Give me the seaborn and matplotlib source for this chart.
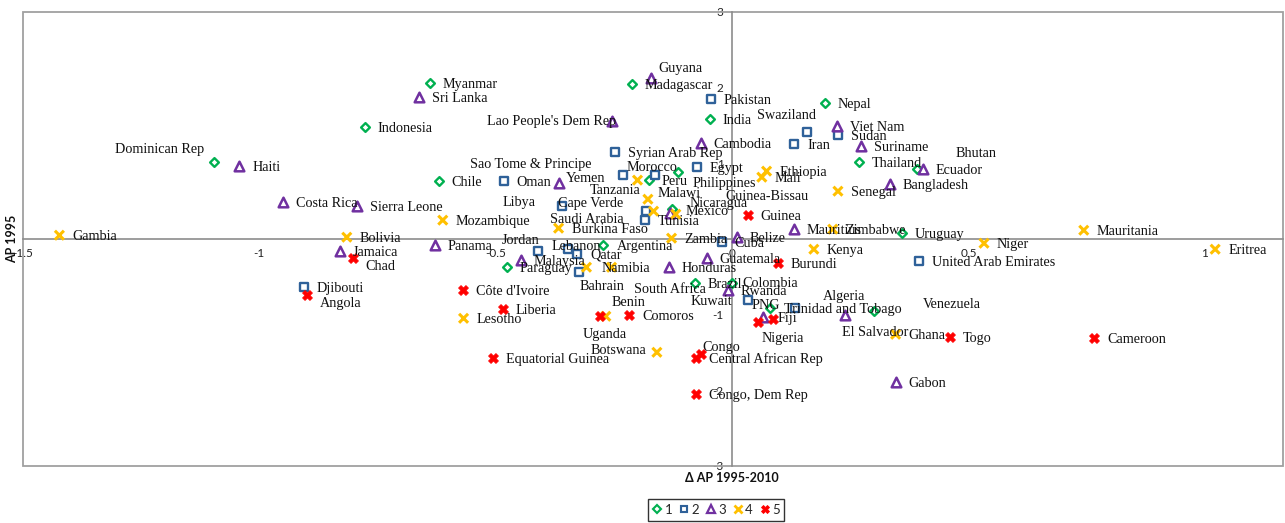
import numpy as np
import pandas as pd
import matplotlib
matplotlib.use("Agg")
import matplotlib.pyplot as plt
import matplotlib.transforms as mtransforms
from matplotlib.lines import Line2D
from matplotlib.patches import Rectangle
import seaborn as sns

# ---------------- data ----------------
c1_names = ["Dominican Rep", "Myanmar", "Indonesia", "Madagascar", "India", "Nepal", "Chile", "Peru",
            "Philippines", "Thailand", "Bhutan", "Nicaragua", "Argentina", "Uruguay", "Paraguay",
            "Brazil", "Colombia", "PNG", "Venezuela"]
c1_x = [-1.097, -0.640, -0.777, -0.212, -0.047, 0.196, -0.621, -0.176, -0.115, 0.268, 0.391, -0.126,
        -0.272, 0.359, -0.477, -0.079, -0.001, 0.080, 0.300]
c1_y = [1.016, 2.061, 1.479, 2.048, 1.585, 1.796, 0.765, 0.778, 0.884, 1.016, 0.923, 0.394,
        -0.082, 0.077, -0.373, -0.585, -0.585, -0.915, -0.955]

c2_names = ["Djibouti", "Oman", "Syrian Arab Rep", "Morocco", "Sao Tome & Principe", "Egypt", "Pakistan",
            "Swaziland", "Iran", "Sudan", "Cape Verde", "Libya", "Saudi Arabia", "Jordan", "Lebanon",
            "Qatar", "Bahrain", "Cuba", "Kuwait", "Trinidad and Tobago", "United Arab Emirates"]
c2_x = [-0.906, -0.483, -0.248, -0.231, -0.164, -0.075, -0.045, 0.158, 0.131, 0.224, -0.360, -0.183,
        -0.185, -0.411, -0.348, -0.327, -0.324, -0.022, 0.033, 0.133, 0.395]
c2_y = [-0.638, 0.765, 1.148, 0.844, 0.844, 0.950, 1.849, 1.413, 1.254, 1.373, 0.434, 0.368,
        0.249, -0.161, -0.135, -0.201, -0.439, -0.042, -0.810, -0.915, -0.294]

c3_names = ["Haiti", "Costa Rica", "Sri Lanka", "Sierra Leone", "Lao People's Dem Rep", "Guyana", "Yemen",
            "Cambodia", "Viet Nam", "Suriname", "Ecuador", "Bangladesh", "Tunisia", "Malaysia", "Panama",
            "Jamaica", "Belize", "Mauritius", "Guatemala", "Honduras", "Rwanda", "El Salvador",
            "Algeria", "Gabon"]
c3_x = [-1.042, -0.949, -0.663, -0.794, -0.255, -0.172, -0.367, -0.066, 0.222, 0.272, 0.404, 0.334,
        -0.132, -0.447, -0.629, -0.830, 0.010, 0.131, -0.054, -0.134, -0.009, 0.065, 0.239, 0.346]
c3_y = [0.963, 0.487, 1.876, 0.434, 1.558, 2.127, 0.738, 1.267, 1.492, 1.228, 0.923, 0.725,
        0.341, -0.280, -0.082, -0.161, 0.024, 0.130, -0.254, -0.373, -0.677, -1.034, -1.008, -1.894]

c4_names = ["Gambia", "Bolivia", "Mozambique", "Burkina Faso", "Tanzania", "Malawi", "Guinea-Bissau",
            "Mexico", "Zambia", "Ethiopia", "Mali", "Senegal", "Zimbabwe", "Kenya", "Niger", "Mauritania",
            "Eritrea", "Namibia", "South Africa", "Lesotho", "Uganda", "Botswana", "Ghana"]
c4_x = [-1.423, -0.815, -0.612, -0.367, -0.200, -0.178, -0.166, -0.119, -0.128, 0.073, 0.063, 0.224,
        0.213, 0.173, 0.533, 0.744, 1.022, -0.255, -0.308, -0.568, -0.267, -0.159, 0.346]
c4_y = [0.050, 0.024, 0.249, 0.143, 0.778, 0.526, 0.368, 0.328, 0.011, 0.897, 0.817, 0.632,
        0.130, -0.135, -0.056, 0.116, -0.135, -0.373, -0.373, -1.048, -1.021, -1.497, -1.259]

c5_names = ["Chad", "Angola", "Côte d'Ivoire", "Liberia", "Equatorial Guinea", "Benin", "Comoros",
            "Guinea", "Burundi", "Nigeria", "Fiji", "Togo", "Cameroon", "Congo", "Central African Rep",
            "Congo, Dem Rep"]
c5_x = [-0.801, -0.900, -0.570, -0.485, -0.506, -0.280, -0.217, 0.033, 0.097, 0.054, 0.086, 0.461,
        0.766, -0.066, -0.077, -0.077]
c5_y = [-0.254, -0.743, -0.677, -0.929, -1.577, -1.021, -1.008, 0.315, -0.320, -1.101, -1.061, -1.299,
        -1.312, -1.524, -1.577, -2.053]

cluster_labels = ["1", "2", "3", "4", "5"]
x_ticks = [-1.5, -1, -0.5, 0, 0.5, 1]
x_tick_labels = ["-1.5", "-1", "-0.5", "0", "0.5", "1"]
y_ticks = [-3, -2, -1, 0, 1, 2, 3]
y_tick_labels = ["-3", "-2", "-1", "0", "1", "2", "3"]
x_title = "Δ AP 1995-2010"
y_title = "AP 1995"

frames = []
for k, (n, xs, ys) in enumerate([(c1_names, c1_x, c1_y), (c2_names, c2_x, c2_y), (c3_names, c3_x, c3_y),
                                  (c4_names, c4_x, c4_y), (c5_names, c5_x, c5_y)], start=1):
    frames.append(pd.DataFrame({"name": n, "dap": xs, "ap": ys, "cluster": k}))
df = pd.concat(frames, ignore_index=True)

# label placement (pixel offsets from marker, y downward); default is to the right
DEFAULT_OFF = (13, 1)
LABEL_OFF = {
    "Dominican Rep": (-99, -13), "Guyana": (8, -10), "Lao People's Dem Rep": (-125, 0),
    "Philippines": (15, 11), "Bhutan": (39, -16), "Nicaragua": (17, -6), "PNG": (-18, -3),
    "Venezuela": (49, -7), "Morocco": (4, -8), "Sao Tome & Principe": (-185, -11),
    "Swaziland": (-50, -17), "Cape Verde": (-4, -3), "Libya": (-143, -9), "Saudi Arabia": (-95, -1),
    "Jordan": (-36, -11), "Lebanon": (-16, -3), "Bahrain": (1, 14), "Kuwait": (-57, 1),
    "Trinidad and Tobago": (-11, 1), "Yemen": (7, -5), "Tunisia": (-12, 8), "El Salvador": (79, 15),
    "Algeria": (-22, -19), "Tanzania": (-48, 10), "Malawi": (10, -6), "Guinea-Bissau": (72, -15),
    "Mexico": (10, -3), "Namibia": (-10, 1), "South Africa": (48, 22), "Uganda": (-23, 18),
    "Botswana": (-66, -2), "Benin": (12, -14), "Chad": (12, 8), "Angola": (13, 8), "Nigeria": (4, 16),
    "Congo": (2, -7), "Fiji": (5, -1), "Colombia": (11, 0),
}

STYLE = {
    1: dict(marker="D", color="#00B050", s=20, kind="hollow", lw=1.7),
    2: dict(marker="s", color="#2F6199", s=32, kind="hollow", lw=1.7),
    3: dict(marker="^", color="#7030A0", s=48, kind="hollow", lw=1.8),
    4: dict(marker="x", color="#FFC000", s=42, kind="line", lw=2.2),
    5: dict(marker="X", color="#FF0000", s=50, kind="filled", lw=0.6),
}

# ---------------- figure ----------------
sns.set_style("white")
plt.rcParams["font.family"] = ["Lato", "DejaVu Sans"]

W, H = 1285, 523
fig = plt.figure(figsize=(W / 100, H / 100), dpi=100)
ax = fig.add_axes([23 / W, 1 - 466 / H, 1260 / W, 454 / H])

for k in range(1, 6):
    st = STYLE[k]
    sub = df[df.cluster == k]
    sns.scatterplot(data=sub, x="dap", y="ap", marker=st["marker"], s=st["s"], ax=ax,
                    legend=False, zorder=3)
    coll = ax.collections[-1]
    if st["kind"] == "hollow":
        coll.set_facecolor("white")
        coll.set_edgecolor(st["color"])
    elif st["kind"] == "line":
        coll.set_facecolor("none")
        coll.set_edgecolor(st["color"])
    else:
        coll.set_facecolor(st["color"])
        coll.set_edgecolor(st["color"])
    coll.set_linewidth(st["lw"])

for _, r in df.iterrows():
    dx, dy = LABEL_OFF.get(r["name"], DEFAULT_OFF)
    ax.annotate(r["name"], (r["dap"], r["ap"]), xytext=(dx, -dy), textcoords="offset pixels",
                ha="left", va="center", fontsize=10.2, family="Liberation Serif", color="#111111",
                zorder=4)

ax.set_xlim(-1.5, 1.1655)
ax.set_ylim(-3, 3)
ax.set_xlabel("")
ax.set_ylabel("")

axis_col = "#8C8C8C"
for side in ["top", "right"]:
    ax.spines[side].set_visible(False)
ax.spines["left"].set_position(("data", 0))
ax.spines["bottom"].set_position(("data", 0))
for side in ["left", "bottom"]:
    ax.spines[side].set_color(axis_col)
    ax.spines[side].set_linewidth(1.2)
    ax.spines[side].set_zorder(1)
ax.add_patch(Rectangle((0, 0), 1, 1, transform=ax.transAxes, fill=False, ec="#A0A0A0", lw=1.3,
                       clip_on=False, zorder=1))

ax.set_xticks(x_ticks)
ax.set_xticklabels(x_tick_labels)
ax.set_yticks(y_ticks)
ax.set_yticklabels(y_tick_labels)
ax.tick_params(axis="both", direction="inout", length=7, width=0.8, color=axis_col,
               labelsize=8.5, labelcolor="#222222")
ax.tick_params(axis="x", pad=3)
ax.tick_params(axis="y", pad=2.5)

bx = mtransforms.blended_transform_factory(ax.transData, fig.transFigure)
ax.text(0, 1 - 478 / H, x_title, transform=bx, ha="center", va="center", fontsize=9,
        fontweight="bold", color="#111111")
by = mtransforms.blended_transform_factory(fig.transFigure, ax.transData)
ax.text(12 / W, 0, y_title, transform=by, ha="center", va="center", rotation=90, fontsize=9,
        fontweight="bold", color="#111111")

handles = []
for k in range(1, 6):
    st = STYLE[k]
    ms = np.sqrt(st["s"]) * 0.85
    if st["kind"] == "hollow":
        h = Line2D([], [], ls="", marker=st["marker"], mfc="white", mec=st["color"],
                   ms=ms, mew=st["lw"] * 0.9)
    elif st["kind"] == "line":
        h = Line2D([], [], ls="", marker=st["marker"], color=st["color"], ms=ms,
                   mew=st["lw"] * 0.9)
    else:
        h = Line2D([], [], ls="", marker=st["marker"], mfc=st["color"], mec=st["color"],
                   ms=ms, mew=st["lw"])
    handles.append(h)

leg = fig.legend(handles, cluster_labels, loc="center", bbox_to_anchor=(716 / W, 1 - 510 / H),
                 ncol=5, frameon=True, fancybox=False, edgecolor="black", fontsize=9.5,
                 handlelength=0.7, handletextpad=0.2, columnspacing=0.55, borderpad=0.35,
                 borderaxespad=0)
leg.get_frame().set_linewidth(1.0)

fig.savefig("out.png", dpi=100)
